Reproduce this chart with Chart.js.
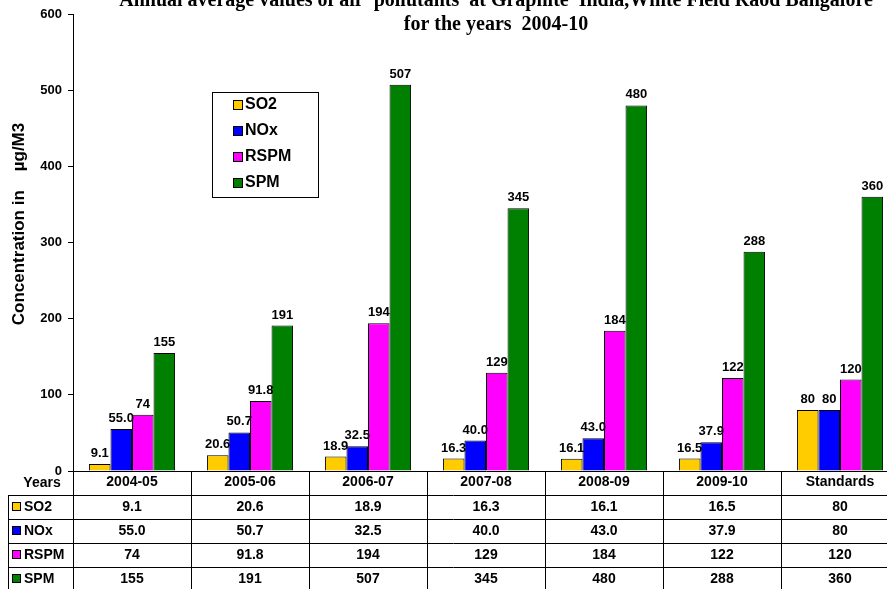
<!DOCTYPE html>
<html>
<head>
<meta charset="utf-8">
<script src="https://cdn.jsdelivr.net/npm/chart.js@4"></script>
<style>
  html, body { margin: 0; padding: 0; background: #fff; overflow: hidden; }
  canvas { display: block; }
</style>
</head>
<body>
<canvas id="myChart" width="899" height="589"></canvas>
<script>
// data
const years = ['2004-05', '2005-06', '2006-07', '2007-08', '2008-09', '2009-10', 'Standards']
const so2 = [9.1, 20.6, 18.9, 16.3, 16.1, 16.5, 80]
const nox = [55.0, 50.7, 32.5, 40.0, 43.0, 37.9, 80]
const rspm = [74, 91.8, 194, 129, 184, 122, 120]
const spm = [155, 191, 507, 345, 480, 288, 360]
// how each series prints its numbers (table + labels)
const so2Text = ['9.1', '20.6', '18.9', '16.3', '16.1', '16.5', '80']
const noxText = ['55.0', '50.7', '32.5', '40.0', '43.0', '37.9', '80']
const rspmText = ['74', '91.8', '194', '129', '184', '122', '120']
const spmText = ['155', '191', '507', '345', '480', '288', '360']
const yTicks = [0, 100, 200, 300, 400, 500, 600]

const titleLines = ['Annual average values of air  pollutants  at Graphite  India,White Field Raod Bangalore', 'for the years  2004-10']
const yTitle = 'Concentration in    \u00b5g/M3'

const series = [
    { label: 'SO2', data: so2, text: so2Text, color: '#FFCC00' },
    { label: 'NOx', data: nox, text: noxText, color: '#0000FF' },
    { label: 'RSPM', data: rspm, text: rspmText, color: '#FF00FF' },
    { label: 'SPM', data: spm, text: spmText, color: '#008000' },
]

const sans = '"Liberation Sans", Arial, sans-serif'
const serif = '"Liberation Serif", "Times New Roman", serif'

const headerH = 24
const rowH = 24

const extras = {
    id: 'extras',
    afterDraw(chart) {
        const ctx = chart.ctx
        const area = chart.chartArea
        const xs = chart.scales.x
        ctx.save()

        // title
        ctx.fillStyle = '#000'
        ctx.textAlign = 'center'
        ctx.textBaseline = 'middle'
        ctx.font = 'bold 20px ' + serif
        ctx.fillText(titleLines[0], 496, 1)
        ctx.fillText(titleLines[1], 496, 25)

        // y axis title
        ctx.save()
        ctx.translate(19, 224)
        ctx.rotate(-Math.PI / 2)
        ctx.font = 'bold 17px ' + sans
        ctx.fillText(yTitle, 0, 0)
        ctx.restore()

        // value labels above the bars
        ctx.font = 'bold 13px ' + sans
        ctx.textBaseline = 'bottom'
        series.forEach((s, si) => {
            const meta = chart.getDatasetMeta(si)
            meta.data.forEach((bar, i) => {
                ctx.fillText(s.text[i], bar.x, bar.y - 4)
            })
        })

        // legend
        const lx = 212, ly = 92, lw = 106, lh = 105
        ctx.fillStyle = '#fff'
        ctx.fillRect(lx, ly, lw, lh)
        ctx.strokeStyle = '#000'
        ctx.lineWidth = 1
        ctx.strokeRect(lx + 0.5, ly + 0.5, lw, lh)
        ctx.font = 'bold 16px ' + sans
        ctx.textAlign = 'left'
        ctx.textBaseline = 'middle'
        series.forEach((s, si) => {
            const cy = ly + 13 + si * 26
            ctx.fillStyle = s.color
            ctx.fillRect(233, cy - 5, 10, 10)
            ctx.strokeRect(233.5, cy - 4.5, 9, 9)
            ctx.fillStyle = '#000'
            ctx.fillText(s.label, 245, cy)
        })

        // data table under the axis
        const colW = (area.right - area.left) / years.length
        const top = area.bottom
        const bottom = chart.height + 5
        ctx.strokeStyle = '#000'
        ctx.lineWidth = 1
        ctx.beginPath()
        for (let i = 0; i <= years.length; i++) {
            const x = Math.round(area.left + i * colW) + 0.5
            ctx.moveTo(x, top)
            ctx.lineTo(x, bottom)
        }
        ctx.moveTo(8.5, top + headerH)
        ctx.lineTo(8.5, bottom)
        for (let r = 0; r <= series.length; r++) {
            const y = Math.round(top + headerH + r * rowH) + 0.5
            ctx.moveTo(8, y)
            ctx.lineTo(area.right, y)
        }
        ctx.stroke()

        ctx.textAlign = 'center'
        ctx.fillStyle = '#000'
        ctx.font = 'bold 14px ' + sans
        ctx.fillText('Years', 42, top + 12)
        years.forEach((y, i) => {
            ctx.fillText(y, xs.getPixelForValue(i), top + 11)
        })
        series.forEach((s, si) => {
            const cy = top + headerH + si * rowH + rowH / 2
            ctx.fillStyle = s.color
            ctx.fillRect(12, cy - 5, 9, 9)
            ctx.strokeRect(12.5, cy - 4.5, 8, 8)
            ctx.fillStyle = '#000'
            ctx.textAlign = 'left'
            ctx.fillText(s.label, 24, cy)
            ctx.textAlign = 'center'
            s.text.forEach((t, i) => {
                ctx.fillText(t, xs.getPixelForValue(i), cy)
            })
        })
        ctx.restore()
    }
}

const ctx = document.getElementById('myChart').getContext('2d')
new Chart(ctx, {
    type: 'bar',
    data: {
        labels: years,
        datasets: series.map(s => ({
            label: s.label,
            data: s.data,
            backgroundColor: s.color,
            borderColor: '#000',
            borderWidth: 1,
            categoryPercentage: 0.73,
            barPercentage: 1,
        }))
    },
    options: {
        responsive: false,
        animation: false,
        devicePixelRatio: 1,
        layout: { padding: { top: 14, left: 0, right: 0, bottom: 0 } },
        plugins: {
            legend: { display: false },
            title: { display: false },
            tooltip: { enabled: false },
        },
        scales: {
            x: {
                ticks: { display: false },
                grid: { display: false },
                border: { display: true, color: '#000', width: 1 },
                afterFit: (scale) => { scale.height = 118 },
            },
            y: {
                min: 0,
                max: 600,
                afterBuildTicks: (scale) => { scale.ticks = yTicks.map(v => ({ value: v })) },
                ticks: {
                    color: '#000',
                    padding: 6,
                    font: { family: sans, size: 13, weight: 'bold' },
                },
                grid: { drawOnChartArea: false, drawTicks: true, tickLength: 5, color: '#000' },
                border: { display: true, color: '#000', width: 1 },
                afterFit: (scale) => { scale.width = 73 },
            },
        },
    },
    plugins: [extras],
})
</script>
</body>
</html>
